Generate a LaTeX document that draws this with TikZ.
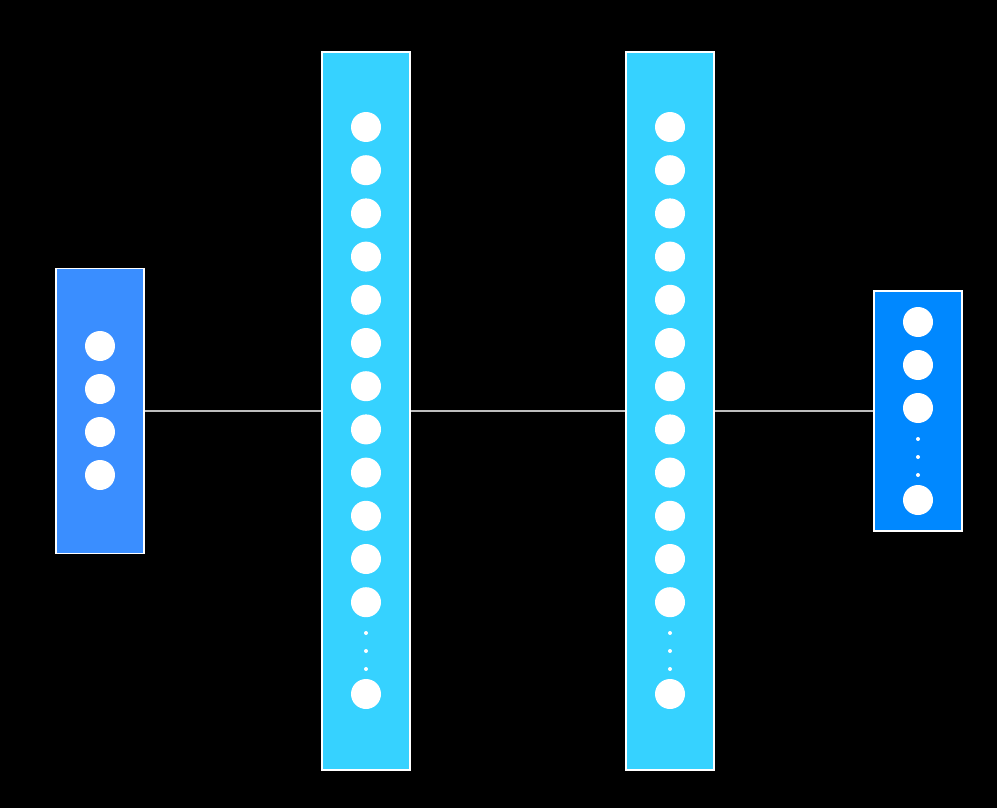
\documentclass[tikz,border=0pt]{standalone}
\usepackage{tikz}
\usepackage{xcolor}
\usetikzlibrary{calc,positioning}

\definecolor{inblue}{RGB}{58,142,255}
\definecolor{hidblue}{RGB}{54,210,255}
\definecolor{outblue}{RGB}{0,136,255}
\definecolor{linkgray}{RGB}{190,190,190}

\begin{document}
\begin{tikzpicture}[
        x=0.02cm, y=-0.02cm,
        layer/.style={rectangle, draw=white, line width=0.8pt, inner sep=0pt,
            minimum width=1.76cm},
        neuron/.style={circle, fill=white, inner sep=0pt, minimum size=0.6cm},
        dotsmall/.style={circle, fill=white, inner sep=0pt, minimum size=0.08cm},
        link/.style={draw=linkgray, line width=0.6pt}
    ]
        % background and canvas size
        \fill[black] (0,0) rectangle (997,808);
        \useasboundingbox (0,0) rectangle (997,808);

        \node[layer, fill=inblue,  minimum height=5.7cm]   (in)   at (100,411) {};
        \node[layer, fill=hidblue, minimum height=14.36cm] (hid1) at (366,411) {};
        \node[layer, fill=hidblue, minimum height=14.36cm] (hid2) at (670,411) {};
        \node[layer, fill=outblue, minimum height=4.8cm]   (out)  at (918,411) {};

        % input neurons
        \foreach \i in {0,...,3}
            \node[neuron] (in-\i) at (100,346+43*\i) {};

        % hidden neurons
        \foreach \l/\x in {1/366,2/670}{
            \foreach \i in {0,...,11}
                \node[neuron] (h\l-\i) at (\x,127+43.2*\i) {};
            \foreach \j/\y in {a/633,b/651,c/669}
                \node[dotsmall] (h\l-\j) at (\x,\y) {};
            \node[neuron] (h\l-n) at (\x,694) {};
        }

        % output neurons
        \foreach \i in {0,...,2}
            \node[neuron] (out-\i) at (918,322+43*\i) {};
        \foreach \j/\y in {a/439,b/457,c/475}
            \node[dotsmall] (out-\j) at (918,\y) {};
        \node[neuron] (out-n) at (918,500) {};

        \draw[link] (in.east)   -- (hid1.west);
        \draw[link] (hid1.east) -- (hid2.west);
        \draw[link] (hid2.east) -- (out.west);
    \end{tikzpicture}
\end{document}
